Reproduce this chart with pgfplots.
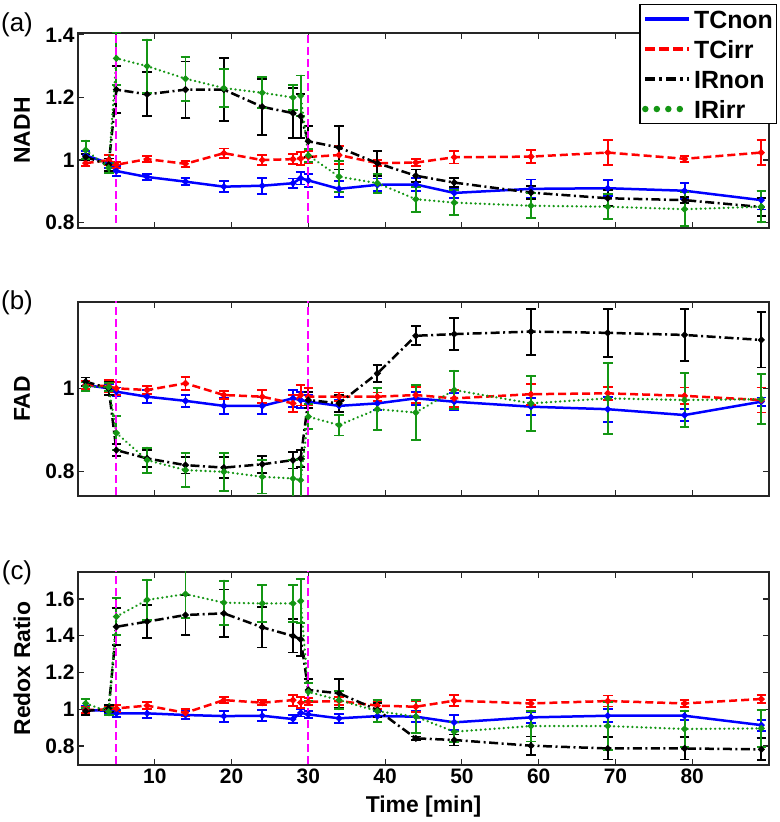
\documentclass[border=0pt]{standalone}
\usepackage{fontspec}
\setmainfont{Liberation Sans}
\usepackage{pgfplots}
\usepackage{pgfplotstable}
\pgfplotsset{compat=1.18}
\definecolor{mblue}{RGB}{0,0,255}
\definecolor{mred}{RGB}{255,0,0}
\definecolor{mgreen}{RGB}{20,150,20}
\definecolor{mmag}{RGB}{255,0,255}

% t, TCnon (b, be), TCirr (r, re), IRnon (k, ke), IRirr (g, ge)
\pgfplotstableread{
t  b     be    r     re    k     ke    g     ge
1  1.015 0.015 0.990 0.010 1.010 0.010 1.032 0.030
4  0.990 0.015 1.000 0.015 0.985 0.020 0.975 0.015
5  0.965 0.015 0.985 0.010 1.225 0.075 1.325 0.085
9  0.946 0.010 1.003 0.010 1.210 0.070 1.300 0.085
14 0.931 0.012 0.988 0.010 1.225 0.090 1.260 0.070
19 0.915 0.018 1.022 0.015 1.225 0.100 1.230 0.060
24 0.918 0.025 1.000 0.015 1.170 0.090 1.215 0.050
28 0.926 0.015 1.003 0.015 1.150 0.080 1.200 0.040
29 0.942 0.020 1.005 0.020 1.140 0.070 1.205 0.065
30 0.935 0.020 1.010 0.020 1.060 0.050 1.015 0.020
34 0.908 0.025 1.016 0.030 1.040 0.070 0.947 0.050
39 0.921 0.020 0.990 0.010 0.990 0.040 0.926 0.030
44 0.922 0.020 0.992 0.010 0.950 0.020 0.875 0.040
49 0.895 0.015 1.009 0.020 0.928 0.015 0.864 0.040
59 0.908 0.030 1.011 0.020 0.896 0.020 0.854 0.040
69 0.910 0.025 1.024 0.040 0.878 0.025 0.851 0.040
79 0.902 0.025 1.004 0.010 0.872 0.010 0.843 0.055
89 0.872 0.030 1.024 0.040 0.850 0.030 0.851 0.050
}\tabA
\pgfplotstableread{
t  b     be    r     re    k     ke    g     ge
1  1.008 0.010 1.008 0.010 1.016 0.010 1.004 0.010
4  1.000 0.010 1.005 0.015 1.000 0.015 1.003 0.010
5  0.992 0.010 1.000 0.015 0.852 0.015 0.893 0.040
9  0.980 0.015 0.996 0.010 0.832 0.020 0.828 0.030
14 0.970 0.015 1.012 0.015 0.816 0.020 0.804 0.040
19 0.958 0.020 0.984 0.010 0.810 0.025 0.800 0.045
24 0.958 0.020 0.980 0.015 0.818 0.020 0.788 0.040
28 0.976 0.020 0.964 0.020 0.828 0.020 0.784 0.045
29 0.972 0.020 0.984 0.025 0.832 0.020 0.780 0.050
30 0.968 0.015 0.980 0.020 0.972 0.020 0.932 0.030
34 0.958 0.015 0.980 0.010 0.964 0.020 0.912 0.025
39 0.964 0.015 0.980 0.010 1.036 0.020 0.950 0.050
44 0.976 0.015 0.984 0.020 1.126 0.023 0.942 0.065
49 0.968 0.020 0.976 0.020 1.130 0.038 0.996 0.046
59 0.956 0.020 0.986 0.025 1.136 0.055 0.964 0.066
69 0.950 0.030 0.988 0.015 1.133 0.057 0.976 0.085
79 0.936 0.015 0.982 0.020 1.128 0.062 0.972 0.064
89 0.968 0.010 0.972 0.030 1.116 0.066 0.974 0.060
}\tabB
\pgfplotstableread{
t  b     be    r     re    k     ke    g     ge
1  0.996 0.020 0.996 0.015 0.990 0.020 1.032 0.025
4  0.992 0.020 1.000 0.015 1.005 0.020 0.987 0.020
5  0.978 0.020 1.005 0.020 1.449 0.100 1.504 0.100
9  0.978 0.025 1.020 0.020 1.477 0.090 1.595 0.110
14 0.969 0.020 0.981 0.020 1.513 0.110 1.627 0.130
19 0.963 0.030 1.050 0.015 1.522 0.130 1.580 0.120
24 0.965 0.030 1.036 0.015 1.446 0.110 1.576 0.100
28 0.947 0.020 1.050 0.030 1.399 0.090 1.576 0.100
29 0.981 0.020 1.036 0.030 1.381 0.090 1.589 0.120
30 0.972 0.020 1.041 0.020 1.105 0.060 1.095 0.050
34 0.951 0.025 1.045 0.020 1.087 0.080 1.050 0.050
39 0.963 0.030 1.020 0.020 0.996 0.040 0.990 0.060
44 0.960 0.030 1.014 0.030 0.842 0.010 0.960 0.090
49 0.929 0.040 1.047 0.030 0.833 0.030 0.878 0.055
59 0.956 0.030 1.032 0.020 0.802 0.050 0.909 0.084
69 0.965 0.035 1.045 0.030 0.787 0.060 0.909 0.130
79 0.965 0.025 1.032 0.020 0.787 0.060 0.893 0.100
89 0.914 0.030 1.056 0.020 0.782 0.060 0.896 0.100
}\tabC

\pgfplotsset{
  panel/.style={
    scale only axis, width=691bp, xmin=0, xmax=90,
    xtick={10,20,...,80},
    tick align=inside, tick pos=both, major tick length=6bp,
    axis line style={line width=1.2bp, black!85},
    every tick/.style={line width=1.2bp, black!85},
    tick label style={font=\fontsize{21}{21}\selectfont\bfseries},
    /pgf/number format/assume math mode=true,
    every axis y label/.style={at={(axis description cs:-0.081,0.5)}, rotate=90, anchor=center,
      font=\fontsize{23}{23}\selectfont\bfseries},
    every axis x label/.style={at={(axis description cs:0.5,0)}, anchor=center, yshift=-42bp,
      font=\fontsize{23}{23}\selectfont\bfseries},
    legend image code/.code={\draw[#1, mark=none] (0bp,0bp) -- (44bp,0bp);},
  },
  ebars/.style={
    error bars/y dir=both, error bars/y explicit,
    error bars/error bar style={solid, line width=1.9bp},
    error bars/error mark options={rotate=90, mark size=4.8bp, line width=1.9bp, solid},
    mark=*, mark size=1.9bp, mark options={solid},
  },
  sTC/.style={mblue, line width=2.5bp, ebars, legend image post style={line width=4bp}},
  sTI/.style={mred, line width=2.5bp, dash pattern=on 8bp off 4bp, ebars,
     legend image post style={line width=4bp, dash pattern=on 10bp off 4bp}},
  sIN/.style={black, line width=2.5bp, dash pattern=on 9bp off 3.5bp on 2bp off 3.5bp, ebars,
     legend image post style={line width=4bp, dash pattern=on 10bp off 4bp on 3bp off 4bp}},
  sII/.style={mgreen, line width=2.5bp, line cap=round, dash pattern=on 0.1bp off 4.5bp, ebars,
     legend image post style={line width=6.5bp, line cap=round, dash pattern=on 0bp off 11.5bp}},
  vline/.style={mmag, line width=1.8bp, dash pattern=on 8bp off 4bp, forget plot, mark=none},
}

\begin{document}
\begin{tikzpicture}[x=1bp,y=1bp]
\path[use as bounding box] (0,0) rectangle (780,822);

% (a) NADH
\begin{axis}[panel, at={(78bp,594bp)}, anchor=south west, height=195bp,
  ymin=0.783, ymax=1.406, ytick={0.8,1,1.2,1.4}, xticklabels={}, ylabel={NADH},
  legend style={at={(1.0116,1.149)}, anchor=north east, draw=black, line width=1.2bp,
    font=\fontsize{25}{25}\selectfont\bfseries, inner xsep=2bp, inner ysep=4bp,
    row sep=9bp, cells={anchor=west},
    nodes={inner sep=1.5bp, text height=18bp, text depth=0bp}},
  legend cell align=left]
\addplot[sTC] table[x=t, y=b, y error=be] {\tabA};
\addlegendentry{TCnon}
\addplot[sTI] table[x=t, y=r, y error=re] {\tabA};
\addlegendentry{TCirr}
\addplot[sIN] table[x=t, y=k, y error=ke] {\tabA};
\addlegendentry{IRnon}
\addplot[sII] table[x=t, y=g, y error=ge] {\tabA};
\addlegendentry{IRirr}
\addplot[vline] coordinates {(5,0.80) (5,1.41)};
\addplot[vline] coordinates {(30,0.80) (30,1.41)};
\end{axis}

% (b) FAD
\begin{axis}[panel, at={(78bp,326bp)}, anchor=south west, height=194bp,
  ymin=0.742, ymax=1.207, ytick={0.8,1}, xticklabels={}, ylabel={FAD}]
\addplot[sTC] table[x=t, y=b, y error=be] {\tabB};
\addplot[sTI] table[x=t, y=r, y error=re] {\tabB};
\addplot[sIN] table[x=t, y=k, y error=ke] {\tabB};
\addplot[sII] table[x=t, y=g, y error=ge] {\tabB};
\addplot[vline] coordinates {(5,0.745) (5,1.21)};
\addplot[vline] coordinates {(30,0.745) (30,1.21)};
\end{axis}

% (c) Redox ratio
\begin{axis}[panel, at={(78bp,57bp)}, anchor=south west, height=193bp,
  ymin=0.697, ymax=1.747, ytick={0.8,1,1.2,1.4,1.6}, ylabel={Redox Ratio},
  xlabel={Time [min]}]
\addplot[sTC] table[x=t, y=b, y error=be] {\tabC};
\addplot[sTI] table[x=t, y=r, y error=re] {\tabC};
\addplot[sIN] table[x=t, y=k, y error=ke] {\tabC};
\addplot[sII] table[x=t, y=g, y error=ge] {\tabC};
\addplot[vline] coordinates {(5,0.70) (5,1.75)};
\addplot[vline] coordinates {(30,0.70) (30,1.75)};
\end{axis}

\node[font=\fontsize{26}{26}\selectfont] at (17,797) {(a)};
\node[font=\fontsize{26}{26}\selectfont] at (17,519) {(b)};
\node[font=\fontsize{26}{26}\selectfont] at (17,249) {(c)};
\end{tikzpicture}
\end{document}
